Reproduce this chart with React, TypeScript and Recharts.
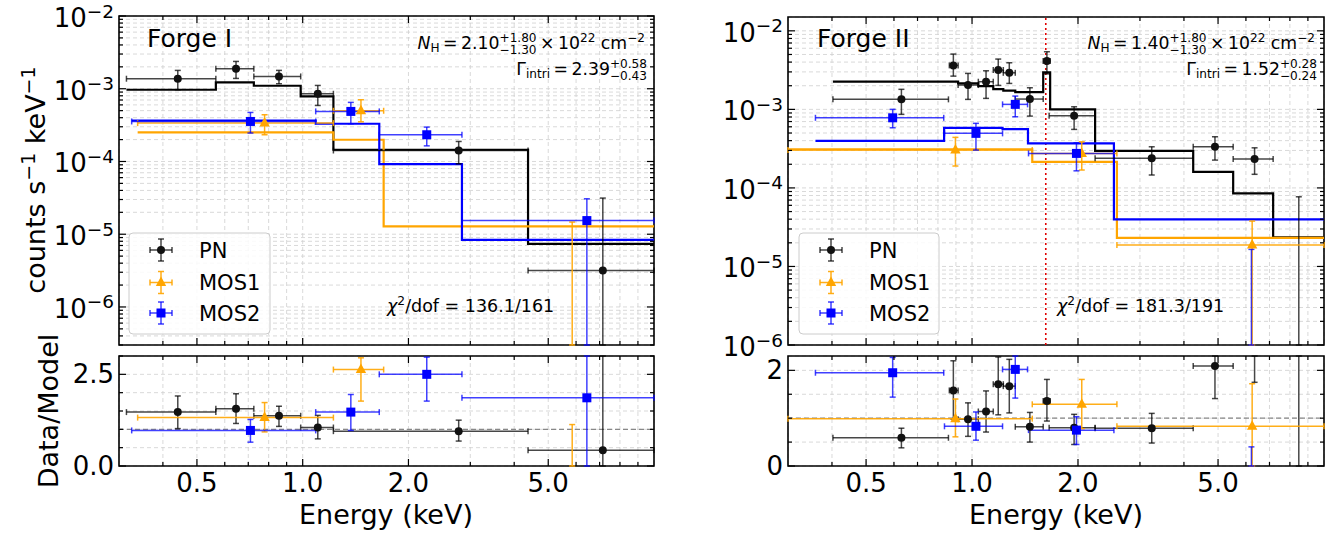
import React from 'react';
import {
  ComposedChart,
  Line,
  Scatter,
  XAxis,
  YAxis,
  CartesianGrid,
  ErrorBar,
  ReferenceLine,
  ReferenceArea,
} from 'recharts';

const FONT = "'DejaVu Sans', 'Liberation Sans', sans-serif";
const LOG_FLOOR = 1e-12;

// ---------------- axes / ticks ----------------
const X_DOMAIN = [0.3, 10];
const X_MAJOR_TICKS = [0.5, 1, 2, 5];
const X_MAJOR_LABELS = ['0.5', '1.0', '2.0', '5.0'];
const X_MINOR_TICKS = [0.4, 0.6, 0.7, 0.8, 0.9, 3, 4, 6, 7, 8, 9];
const X_TICKS = [...X_MINOR_TICKS, ...X_MAJOR_TICKS].sort((a, b) => a - b);

const F1_Y_DOMAIN = [3e-7, 1e-2];
const F2_Y_DOMAIN = [1e-6, 1.5e-2];
const DECADES = [1e-7, 1e-6, 1e-5, 1e-4, 1e-3, 1e-2];
const MINOR_MULT = [1, 2, 3, 4, 5, 6, 7, 8, 9];

const F1_RATIO_DOMAIN = [0, 3];
const F1_RATIO_TICKS = [0, 0.5, 1, 1.5, 2, 2.5, 3];
const F1_RATIO_MAJOR = [0, 2.5];
const F1_RATIO_LABELS = ['0.0', '2.5'];
const F2_RATIO_DOMAIN = [0, 2.3];
const F2_RATIO_TICKS = [0, 0.5, 1, 1.5, 2];
const F2_RATIO_MAJOR = [0, 2];
const F2_RATIO_LABELS = ['0', '2'];

const logTicks = (dom: number[]) =>
  DECADES.flatMap((d) => MINOR_MULT.map((k) => k * d)).filter(
    (v) => v >= dom[0] * 0.999 && v <= dom[1] * 1.001
  );

// ---------------- Forge I data ----------------
// PN
const f1PnE = [0.441, 0.646, 0.856, 1.104, 2.78, 7.15];
const f1PnElo = [0.315, 0.566, 0.726, 0.987, 1.223, 4.38];
const f1PnEhi = [0.566, 0.726, 0.987, 1.223, 4.38, 10];
const f1PnRate = [1.373e-3, 1.884e-3, 1.476e-3, 0.853e-3, 1.416e-4, 3.17e-6];
const f1PnRateLo = [0.969e-3, 1.386e-3, 1.172e-3, 0.589e-3, 0.93e-4, -2e-5];
const f1PnRateHi = [1.787e-3, 2.374e-3, 1.787e-3, 1.11e-3, 1.884e-4, 3.14e-5];
const f1PnRatio = [1.47, 1.56, 1.37, 1.05, 0.95, 0.43];
const f1PnRatioLo = [1.02, 1.16, 1.08, 0.74, 0.68, -2.0];
const f1PnRatioHi = [1.91, 1.97, 1.63, 1.38, 1.25, 4.0];
const f1PnModelEdges = [0.315, 0.566, 0.726, 0.987, 1.223, 4.38, 10];
const f1PnModel = [0.969e-3, 1.22e-3, 1.1e-3, 0.783e-3, 1.45e-4, 7.38e-6];
// MOS1
const f1M1E = [0.779, 1.465, 5.85];
const f1M1Elo = [0.339, 1.223, 1.7];
const f1M1Ehi = [1.223, 1.7, 10];
const f1M1Rate = [3.37e-4, 4.98e-4, -2e-6];
const f1M1RateLo = [2.33e-4, 3.51e-4, -3e-5];
const f1M1RateHi = [4.39e-4, 7.06e-4, 1.47e-5];
const f1M1Ratio = [1.32, 2.63, -0.6];
const f1M1RatioLo = [0.93, 1.77, -2.5];
const f1M1RatioHi = [1.73, 2.95, 1.13];
const f1M1ModelEdges = [0.339, 1.223, 1.7, 10];
const f1M1Model = [2.51e-4, 1.99e-4, 1.28e-5];
// MOS2
const f1M2E = [0.71, 1.371, 2.255, 6.44];
const f1M2Elo = [0.326, 1.089, 1.652, 2.84];
const f1M2Ehi = [1.089, 1.652, 2.84, 10];
const f1M2Rate = [3.55e-4, 4.88e-4, 2.33e-4, 1.54e-5];
const f1M2RateLo = [2.46e-4, 3.3e-4, 1.64e-4, -1e-5];
const f1M2RateHi = [4.72e-4, 6.49e-4, 2.97e-4, 3.07e-5];
const f1M2Ratio = [0.97, 1.47, 2.5, 1.86];
const f1M2RatioLo = [0.65, 0.97, 1.77, -1.0];
const f1M2RatioHi = [1.27, 1.95, 2.97, 4.0];
const f1M2ModelEdges = [0.326, 1.089, 1.652, 2.84, 10];
const f1M2Model = [3.66e-4, 3.3e-4, 9.2e-5, 8.37e-6];

// ---------------- Forge II data ----------------
// PN
const f2PnE = [0.63, 0.885, 0.974, 1.096, 1.187, 1.276, 1.46, 1.632, 1.95, 3.24, 4.9, 6.35, 8.48];
const f2PnElo = [0.4025, 0.862, 0.913, 1.042, 1.149, 1.227, 1.327, 1.593, 1.656, 2.237, 4.25, 5.52, 7.17];
const f2PnEhi = [0.857, 0.913, 1.042, 1.149, 1.227, 1.327, 1.593, 1.667, 2.237, 4.25, 5.52, 7.17, 10];
const f2PnRate = [1.341e-3, 3.63e-3, 2.04e-3, 2.25e-3, 3.17e-3, 2.92e-3, 1.353e-3, 4.12e-3, 0.829e-3, 2.38e-4, 3.34e-4, 2.33e-4, -2e-5];
const f2PnRateLo = [0.864e-3, 2.65e-3, 1.34e-3, 1.38e-3, 2.02e-3, 2.14e-3, 0.821e-3, 2.83e-3, 0.556e-3, 1.46e-4, 2.26e-4, 1.49e-4, -1.2e-4];
const f2PnRateHi = [1.8e-3, 5.06e-3, 2.87e-3, 3.1e-3, 4.37e-3, 3.92e-3, 1.884e-3, 5.42e-3, 1.079e-3, 3.34e-4, 4.48e-4, 3.24e-4, 7.71e-5];
const f2PnRatio = [0.59, 1.58, 0.98, 1.14, 1.71, 1.67, 0.82, 1.36, 0.8, 0.79, 2.09, 2.74, -0.9];
const f2PnRatioLo = [0.38, 0.98, 0.62, 0.71, 1.07, 1.11, 0.5, 0.94, 0.45, 0.48, 1.41, 1.75, -5];
const f2PnRatioHi = [0.79, 2.2, 1.32, 1.57, 2.28, 2.23, 1.12, 1.81, 1.08, 1.1, 2.8, 3.8, 3.3];
const f2PnModelEdges = [0.4025, 0.913, 1.042, 1.149, 1.227, 1.327, 1.593, 1.667, 2.237, 4.25, 5.52, 7.17, 10];
const f2PnModel = [2.25e-3, 2.14e-3, 1.98e-3, 1.81e-3, 1.73e-3, 1.66e-3, 2.96e-3, 1.0e-3, 2.97e-4, 1.6e-4, 8.5e-5, 2.34e-5];
// MOS1
const f2M1E = [0.897, 2.05, 6.25];
const f2M1Elo = [0.3, 1.483, 2.58];
const f2M1Ehi = [1.483, 2.58, 10];
const f2M1Rate = [3.03e-4, 2.75e-4, 1.87e-5];
const f2M1RateLo = [1.9e-4, 1.69e-4, -2e-5];
const f2M1RateHi = [4.4e-4, 3.86e-4, 3.78e-5];
const f2M1Ratio = [0.99, 1.29, 0.83];
const f2M1RatioLo = [0.61, 0.78, -0.9];
const f2M1RatioHi = [1.4, 1.81, 1.72];
const f2M1ModelEdges = [0.3, 1.483, 2.58, 10];
const f2M1Model = [3.09e-4, 2.15e-4, 2.31e-5];
// MOS2
const f2M2E = [0.595, 1.026, 1.327, 1.98, 6.22];
const f2M2Elo = [0.359, 0.835, 1.221, 1.447, 2.53];
const f2M2Ehi = [0.831, 1.221, 1.438, 2.53, 10];
const f2M2Rate = [7.81e-4, 4.95e-4, 1.158e-3, 2.75e-4, -1e-5];
const f2M2RateLo = [5.83e-4, 3.03e-4, 0.805e-3, 1.65e-4, -4e-5];
const f2M2RateHi = [1.0e-3, 6.64e-4, 1.477e-3, 3.75e-4, 1.65e-5];
const f2M2Ratio = [1.95, 0.83, 2.02, 0.75, -0.3];
const f2M2RatioLo = [1.44, 0.54, 1.42, 0.45, -1.2];
const f2M2RatioHi = [2.27, 1.13, 2.6, 1.03, 0.4];
const f2M2ModelEdges = [0.359, 0.833, 1.221, 1.442, 2.53, 10];
const f2M2Model = [3.98e-4, 5.8e-4, 5.6e-4, 3.69e-4, 3.97e-5];

const F2_LINE_ENERGY = 1.62;

// ---------------- styles ----------------
const PN_COLOR = '#111111';
const PN_ERR = 'rgba(0,0,0,0.72)';
const M1_COLOR = '#FFA500';
const M1_ERR = 'rgba(255,165,0,0.9)';
const M2_COLOR = '#0000FF';
const M2_ERR = 'rgba(0,0,255,0.75)';

// ---------------- helpers ----------------
const clampTo = (v, dom) => Math.min(Math.max(v, dom[0]), dom[1]);

// points inside the y-range get x and y error bars; points outside it only
// keep the visible part of their y error bar (error bars are cut at the frame)
function buildRows(E, Elo, Ehi, v, vLo, vHi, dom, log) {
  const inside = [];
  const outside = [];
  E.forEach((e, i) => {
    const lo = clampTo(vLo[i], dom);
    const hi = clampTo(vHi[i], dom);
    if (v[i] >= dom[0] && v[i] <= dom[1]) {
      inside.push({ x: e, y: v[i], ex: [e - Elo[i], Ehi[i] - e], ey: [v[i] - lo, hi - v[i]] });
    } else if (hi > lo) {
      const y = log ? Math.max(v[i], LOG_FLOOR) : v[i];
      outside.push({ x: e, y, ey: [y - lo, hi - y] });
    }
  });
  return { inside, outside };
}
function buildModel(edges, vals) {
  return edges.map((e, i) => ({ x: e, y: vals[Math.min(i, vals.length - 1)] }));
}

const circleShape = (color) => (p) =>
  p.cx == null ? <g /> : <circle cx={p.cx} cy={p.cy} r={4} fill={color} />;
const squareShape = (color) => (p) =>
  p.cx == null ? <g /> : <rect x={p.cx - 4.5} y={p.cy - 4.5} width={9} height={9} fill={color} />;
const triangleShape = (color) => (p) =>
  p.cx == null ? (
    <g />
  ) : (
    <polygon
      points={`${p.cx},${p.cy - 6} ${p.cx - 5.2},${p.cy + 3.5} ${p.cx + 5.2},${p.cy + 3.5}`}
      fill={color}
    />
  );
const noShape = () => <g />;

const makeXTick = (plotH, showLabels) => (props) => {
  const { x, y, payload } = props;
  const idx = X_MAJOR_TICKS.indexOf(payload.value);
  const major = idx >= 0;
  const len = major ? 7 : 4;
  return (
    <g>
      <line x1={x} y1={y} x2={x} y2={y - len} stroke="#000" strokeWidth={1.2} />
      <line x1={x} y1={y - plotH} x2={x} y2={y - plotH + len} stroke="#000" strokeWidth={1.2} />
      {showLabels && major && (
        <text x={x} y={y + 26} textAnchor="middle" fontSize={26} fontFamily={FONT} fill="#000">
          {X_MAJOR_LABELS[idx]}
        </text>
      )}
    </g>
  );
};

const makeLogYTick = (plotW) => (props) => {
  const { x, y, payload } = props;
  const v = payload.value;
  const lg = Math.log10(v);
  const exp = Math.round(lg);
  const major = Math.abs(lg - exp) < 1e-6;
  const len = major ? 7 : 4;
  return (
    <g>
      <line x1={x} y1={y} x2={x + len} y2={y} stroke="#000" strokeWidth={1.2} />
      <line x1={x + plotW} y1={y} x2={x + plotW - len} y2={y} stroke="#000" strokeWidth={1.2} />
      {major && (
        <text x={x - 5} y={y + 11} textAnchor="end" fontSize={26} fontFamily={FONT} fill="#000">
          10
          <tspan dy={-9.5} fontSize={18.5}>
            {'\u2212' + Math.abs(exp)}
          </tspan>
        </text>
      )}
    </g>
  );
};

const makeLinYTick = (plotW, majors, labels) => (props) => {
  const { x, y, payload } = props;
  const idx = majors.indexOf(payload.value);
  const major = idx >= 0;
  const len = major ? 7 : 4;
  return (
    <g>
      <line x1={x} y1={y} x2={x + len} y2={y} stroke="#000" strokeWidth={1.2} />
      <line x1={x + plotW} y1={y} x2={x + plotW - len} y2={y} stroke="#000" strokeWidth={1.2} />
      {major && (
        <text x={x - 5} y={y + 9} textAnchor="end" fontSize={26} fontFamily={FONT} fill="#000">
          {labels[idx]}
        </text>
      )}
    </g>
  );
};

function renderSeries(list) {
  const out = [];
  list.forEach((s) => {
    out.push(
      <Scatter key={s.name + '-in'} data={s.rows.inside} dataKey="y" shape={s.shape} isAnimationActive={false}>
        <ErrorBar dataKey="ex" direction="x" width={3} stroke={s.err} strokeWidth={1.5} />
        <ErrorBar dataKey="ey" direction="y" width={3} stroke={s.err} strokeWidth={1.5} />
      </Scatter>
    );
    if (s.rows.outside.length) {
      out.push(
        <Scatter key={s.name + '-out'} data={s.rows.outside} dataKey="y" shape={noShape} isAnimationActive={false}>
          <ErrorBar dataKey="ey" direction="y" width={3} stroke={s.err} strokeWidth={1.5} />
        </Scatter>
      );
    }
  });
  return out;
}

function renderModels(list) {
  return list.map((m) => (
    <Line
      key={m.name}
      data={m.rows}
      dataKey="y"
      type="stepAfter"
      stroke={m.color}
      strokeWidth={2.2}
      dot={false}
      activeDot={false}
      isAnimationActive={false}
    />
  ));
}

function SpectrumChart({ left, width, yAxisW, marginTop, marginRight, yDomain, series, models, refX }) {
  const height = 362;
  const xAxisH = 17;
  const plotW = width - yAxisW - marginRight;
  const plotH = height - marginTop - xAxisH;
  return (
    <div style={{ position: 'absolute', left, top: 0, width, height }}>
      <ComposedChart
        width={width}
        height={height}
        margin={{ top: marginTop, right: marginRight, bottom: 0, left: 0 }}
      >
        <CartesianGrid stroke="#cfcfcf" strokeDasharray="4 3" strokeWidth={0.8} />
        <XAxis
          dataKey="x"
          type="number"
          scale="log"
          domain={X_DOMAIN}
          allowDataOverflow
          ticks={X_TICKS}
          interval={0}
          height={xAxisH}
          axisLine={false}
          tickLine={false}
          tickSize={0}
          tickMargin={0}
          tick={makeXTick(plotH, false)}
        />
        <YAxis
          type="number"
          scale="log"
          domain={yDomain}
          allowDataOverflow
          ticks={logTicks(yDomain)}
          interval={0}
          width={yAxisW}
          axisLine={false}
          tickLine={false}
          tickSize={0}
          tickMargin={0}
          tick={makeLogYTick(plotW)}
        />
        {refX ? (
          <ReferenceLine x={refX} stroke="#e00000" strokeDasharray="2 3" strokeWidth={1.6} />
        ) : null}
        {renderModels(models)}
        {renderSeries(series)}
        <ReferenceArea
          x1={X_DOMAIN[0]}
          x2={X_DOMAIN[1]}
          y1={yDomain[0]}
          y2={yDomain[1]}
          fill="none"
          fillOpacity={0}
          stroke="#000"
          strokeWidth={1.6}
          ifOverflow="visible"
        />
      </ComposedChart>
    </div>
  );
}

function RatioChart({ left, width, yAxisW, marginRight, yDomain, yTicks, majors, labels, series }) {
  const height = 183;
  const marginTop = 6;
  const xAxisH = 67;
  const plotW = width - yAxisW - marginRight;
  const plotH = height - marginTop - xAxisH;
  return (
    <div style={{ position: 'absolute', left, top: 350, width, height }}>
      <ComposedChart
        width={width}
        height={height}
        margin={{ top: marginTop, right: marginRight, bottom: 0, left: 0 }}
      >
        <CartesianGrid stroke="#cfcfcf" strokeDasharray="4 3" strokeWidth={0.8} />
        <XAxis
          dataKey="x"
          type="number"
          scale="log"
          domain={X_DOMAIN}
          allowDataOverflow
          ticks={X_TICKS}
          interval={0}
          height={xAxisH}
          axisLine={false}
          tickLine={false}
          tickSize={0}
          tickMargin={0}
          tick={makeXTick(plotH, true)}
        />
        <YAxis
          type="number"
          domain={yDomain}
          allowDataOverflow
          ticks={yTicks}
          interval={0}
          width={yAxisW}
          axisLine={false}
          tickLine={false}
          tickSize={0}
          tickMargin={0}
          tick={makeLinYTick(plotW, majors, labels)}
        />
        <ReferenceLine y={1} stroke="#888" strokeDasharray="5 3" strokeWidth={1.2} />
        {renderSeries(series)}
        <ReferenceArea
          x1={X_DOMAIN[0]}
          x2={X_DOMAIN[1]}
          y1={yDomain[0]}
          y2={yDomain[1]}
          fill="none"
          fillOpacity={0}
          stroke="#000"
          strokeWidth={1.6}
          ifOverflow="visible"
        />
      </ComposedChart>
    </div>
  );
}

const SCRIPT = 12.1;
const BASE = 17.3;
const STACK_DX = -3.064 * SCRIPT;
const TS = '\u2009';

function PanelText({ dx, name, nh, nhUp, nhDn, gam, gamUp, gamDn, chi }) {
  return (
    <g fontFamily={FONT} fill="#000" style={{ whiteSpace: 'pre' }}>
      <text x={147 + dx} y={47} fontSize={25}>
        {name}
      </text>
      <text x={645 + dx} y={49} textAnchor="end" fontSize={BASE}>
        <tspan fontStyle="italic">N</tspan>
        <tspan fontSize={SCRIPT} dy={3}>H</tspan>
        <tspan dy={-3}>{TS + '=' + TS + nh}</tspan>
        <tspan fontSize={SCRIPT} dy={-7}>{nhUp}</tspan>
        <tspan fontSize={SCRIPT} dx={STACK_DX} dy={12}>{nhDn}</tspan>
        <tspan dy={-5}>{TS + '\u00d7' + TS + '10'}</tspan>
        <tspan fontSize={SCRIPT} dy={-7}>22</tspan>
        <tspan dy={7}>{' cm'}</tspan>
        <tspan fontSize={SCRIPT} dy={-7}>{'\u22122'}</tspan>
      </text>
      <text x={647 + dx} y={75} textAnchor="end" fontSize={BASE}>
        <tspan>Γ</tspan>
        <tspan fontSize={SCRIPT} dy={3}>intri</tspan>
        <tspan dy={-3}>{TS + '=' + TS + gam}</tspan>
        <tspan fontSize={SCRIPT} dy={-7}>{gamUp}</tspan>
        <tspan fontSize={SCRIPT} dx={STACK_DX} dy={12}>{gamDn}</tspan>
      </text>
      <text x={387 + dx} y={312} fontSize={17.5}>
        <tspan fontStyle="italic">χ</tspan>
        <tspan fontSize={12.25} dy={-7}>2</tspan>
        <tspan dy={7}>{'/dof = ' + chi}</tspan>
      </text>
      <text x={386 + dx} y={524} textAnchor="middle" fontSize={27}>
        Energy (keV)
      </text>
    </g>
  );
}

const LEGEND_ITEMS = ['PN', 'MOS1', 'MOS2'];

function LegendBox({ x, y, w }) {
  const rows = [17, 49.5, 80];
  const colors = [PN_ERR, M1_ERR, M2_ERR];
  const mx = x + 32;
  return (
    <g fontFamily={FONT}>
      <rect x={x} y={y} width={w} height={101} rx={4} fill="#fff" fillOpacity={0.85} stroke="#cccccc" strokeWidth={1} />
      {rows.map((ry, i) => {
        const cy = y + ry;
        const c = colors[i];
        return (
          <g key={i}>
            <line x1={mx - 11} x2={mx + 11} y1={cy} y2={cy} stroke={c} strokeWidth={1.5} />
            <line x1={mx} x2={mx} y1={cy - 11} y2={cy + 11} stroke={c} strokeWidth={1.5} />
            <line x1={mx - 11} x2={mx - 11} y1={cy - 3} y2={cy + 3} stroke={c} strokeWidth={1.5} />
            <line x1={mx + 11} x2={mx + 11} y1={cy - 3} y2={cy + 3} stroke={c} strokeWidth={1.5} />
            <line x1={mx - 3} x2={mx + 3} y1={cy - 11} y2={cy - 11} stroke={c} strokeWidth={1.5} />
            <line x1={mx - 3} x2={mx + 3} y1={cy + 11} y2={cy + 11} stroke={c} strokeWidth={1.5} />
            {i === 0 && <circle cx={mx} cy={cy} r={4} fill={PN_COLOR} />}
            {i === 1 && (
              <polygon points={`${mx},${cy - 6} ${mx - 5.2},${cy + 3.5} ${mx + 5.2},${cy + 3.5}`} fill={M1_COLOR} />
            )}
            {i === 2 && <rect x={mx - 4.5} y={cy - 4.5} width={9} height={9} fill={M2_COLOR} />}
            <text x={x + 70} y={cy + 7.5} fontSize={21} fill="#000">
              {LEGEND_ITEMS[i]}
            </text>
          </g>
        );
      })}
    </g>
  );
}

export default function App() {
  const L = true;
  const f1Spec = [
    { name: 'PN', rows: buildRows(f1PnE, f1PnElo, f1PnEhi, f1PnRate, f1PnRateLo, f1PnRateHi, F1_Y_DOMAIN, L), err: PN_ERR, shape: circleShape(PN_COLOR) },
    { name: 'MOS1', rows: buildRows(f1M1E, f1M1Elo, f1M1Ehi, f1M1Rate, f1M1RateLo, f1M1RateHi, F1_Y_DOMAIN, L), err: M1_ERR, shape: triangleShape(M1_COLOR) },
    { name: 'MOS2', rows: buildRows(f1M2E, f1M2Elo, f1M2Ehi, f1M2Rate, f1M2RateLo, f1M2RateHi, F1_Y_DOMAIN, L), err: M2_ERR, shape: squareShape(M2_COLOR) },
  ];
  const f1Models = [
    { name: 'PNm', rows: buildModel(f1PnModelEdges, f1PnModel), color: '#000' },
    { name: 'M1m', rows: buildModel(f1M1ModelEdges, f1M1Model), color: M1_COLOR },
    { name: 'M2m', rows: buildModel(f1M2ModelEdges, f1M2Model), color: M2_COLOR },
  ];
  const f1Ratio = [
    { name: 'PN', rows: buildRows(f1PnE, f1PnElo, f1PnEhi, f1PnRatio, f1PnRatioLo, f1PnRatioHi, F1_RATIO_DOMAIN, false), err: PN_ERR, shape: circleShape(PN_COLOR) },
    { name: 'MOS1', rows: buildRows(f1M1E, f1M1Elo, f1M1Ehi, f1M1Ratio, f1M1RatioLo, f1M1RatioHi, F1_RATIO_DOMAIN, false), err: M1_ERR, shape: triangleShape(M1_COLOR) },
    { name: 'MOS2', rows: buildRows(f1M2E, f1M2Elo, f1M2Ehi, f1M2Ratio, f1M2RatioLo, f1M2RatioHi, F1_RATIO_DOMAIN, false), err: M2_ERR, shape: squareShape(M2_COLOR) },
  ];
  const f2Spec = [
    { name: 'PN', rows: buildRows(f2PnE, f2PnElo, f2PnEhi, f2PnRate, f2PnRateLo, f2PnRateHi, F2_Y_DOMAIN, L), err: PN_ERR, shape: circleShape(PN_COLOR) },
    { name: 'MOS1', rows: buildRows(f2M1E, f2M1Elo, f2M1Ehi, f2M1Rate, f2M1RateLo, f2M1RateHi, F2_Y_DOMAIN, L), err: M1_ERR, shape: triangleShape(M1_COLOR) },
    { name: 'MOS2', rows: buildRows(f2M2E, f2M2Elo, f2M2Ehi, f2M2Rate, f2M2RateLo, f2M2RateHi, F2_Y_DOMAIN, L), err: M2_ERR, shape: squareShape(M2_COLOR) },
  ];
  const f2Models = [
    { name: 'PNm', rows: buildModel(f2PnModelEdges, f2PnModel), color: '#000' },
    { name: 'M1m', rows: buildModel(f2M1ModelEdges, f2M1Model), color: M1_COLOR },
    { name: 'M2m', rows: buildModel(f2M2ModelEdges, f2M2Model), color: M2_COLOR },
  ];
  const f2Ratio = [
    { name: 'PN', rows: buildRows(f2PnE, f2PnElo, f2PnEhi, f2PnRatio, f2PnRatioLo, f2PnRatioHi, F2_RATIO_DOMAIN, false), err: PN_ERR, shape: circleShape(PN_COLOR) },
    { name: 'MOS1', rows: buildRows(f2M1E, f2M1Elo, f2M1Ehi, f2M1Ratio, f2M1RatioLo, f2M1RatioHi, F2_RATIO_DOMAIN, false), err: M1_ERR, shape: triangleShape(M1_COLOR) },
    { name: 'MOS2', rows: buildRows(f2M2E, f2M2Elo, f2M2Ehi, f2M2Ratio, f2M2RatioLo, f2M2RatioHi, F2_RATIO_DOMAIN, false), err: M2_ERR, shape: squareShape(M2_COLOR) },
  ];

  return (
    <div
      style={{
        position: 'absolute',
        left: 0,
        top: 0,
        width: 1333,
        height: 533,
        background: '#fff',
        overflow: 'hidden',
        fontFamily: FONT,
      }}
    >
      <SpectrumChart left={0} width={660} yAxisW={119} marginTop={16} marginRight={6} yDomain={F1_Y_DOMAIN} series={f1Spec} models={f1Models} />
      <SpectrumChart left={660} width={673} yAxisW={128} marginTop={17} marginRight={9} yDomain={F2_Y_DOMAIN} series={f2Spec} models={f2Models} refX={F2_LINE_ENERGY} />
      <RatioChart left={0} width={660} yAxisW={119} marginRight={6} yDomain={F1_RATIO_DOMAIN} yTicks={F1_RATIO_TICKS} majors={F1_RATIO_MAJOR} labels={F1_RATIO_LABELS} series={f1Ratio} />
      <RatioChart left={660} width={673} yAxisW={128} marginRight={9} yDomain={F2_RATIO_DOMAIN} yTicks={F2_RATIO_TICKS} majors={F2_RATIO_MAJOR} labels={F2_RATIO_LABELS} series={f2Ratio} />
      <svg width={1333} height={533} style={{ position: 'absolute', left: 0, top: 0, pointerEvents: 'none' }}>
        <LegendBox x={129} y={233} w={141} />
        <LegendBox x={799} y={233} w={140} />
        <PanelText dx={0} name="Forge I" nh="2.10" nhUp="+1.80" nhDn={'\u22121.30'} gam="2.39" gamUp="+0.58" gamDn={'\u22120.43'} chi="136.1/161" />
        <PanelText dx={670} name="Forge II" nh="1.40" nhUp="+1.80" nhDn={'\u22121.30'} gam="1.52" gamUp="+0.28" gamDn={'\u22120.24'} chi="181.3/191" />
        <g fontFamily={FONT} fill="#000">
          <text transform="translate(45,180) rotate(-90)" textAnchor="middle" fontSize={27} style={{ whiteSpace: 'pre' }}>
            counts s
            <tspan dy={-10} fontSize={19}>{'\u22121'}</tspan>
            <tspan dy={10}>{' keV'}</tspan>
            <tspan dy={-10} fontSize={19}>{'\u22121'}</tspan>
          </text>
          <text transform="translate(58,411) rotate(-90)" textAnchor="middle" fontSize={27}>
            Data/Model
          </text>
        </g>
      </svg>
    </div>
  );
}
